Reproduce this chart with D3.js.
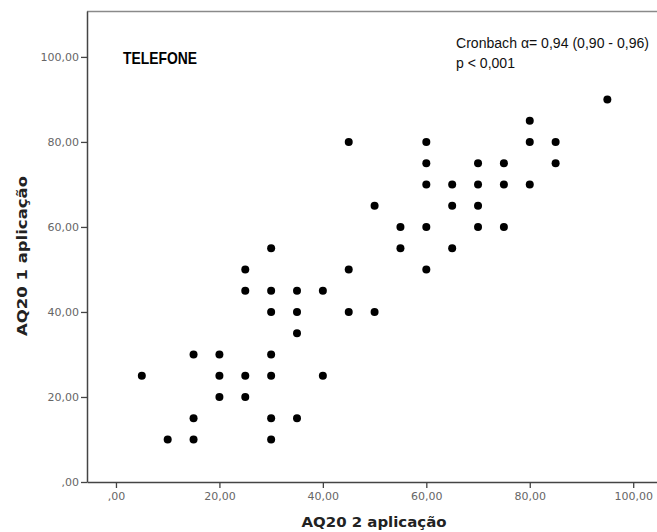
<!DOCTYPE html>
<html>
<head>
<meta charset="utf-8">
<script src="https://cdn.jsdelivr.net/npm/d3@7"></script>
<style>
  html, body { margin: 0; padding: 0; background: #fff; }
  svg { display: block; }
</style>
</head>
<body>
<svg id="chart" width="657" height="532"></svg>
<script>
// Data: AQ20 2 aplicação (x) vs AQ20 1 aplicação (y)
const xValues = [5,10,15,15,15,20,20,20,25,25,25,25,30,30,30,30,30,30,30,35,35,35,35,40,40,45,45,45,50,50,55,55,60,60,60,60,60,65,65,65,70,70,70,70,75,75,75,80,80,80,85,85,95];
const yValues = [25,10,10,15,30,30,25,20,50,45,25,20,55,45,40,30,25,15,10,45,40,35,15,45,25,80,50,40,65,40,60,55,80,75,70,60,50,70,65,55,75,70,65,60,75,70,60,85,80,70,80,75,90];
const xTicks = [0,20,40,60,80,100];
const yTicks = [0,20,40,60,80,100];
const xTitle = "AQ20 2 aplicação";
const yTitle = "AQ20 1 aplicação";
const panelLabel = "TELEFONE";
const statLines = ["Cronbach α= 0,94 (0,90 - 0,96)", "p < 0,001"];

const points = xValues.map((v, i) => ({x: v, y: yValues[i]}));

const svg = d3.select("#chart");
const pLeft = 87, pRight = 657, pTop = 11, pBottom = 482;

const x = d3.scaleLinear().domain([-5.6, 104.6]).range([pLeft, pRight]);
const y = d3.scaleLinear().domain([0, 110.8]).range([pBottom, pTop]);

const fmt = v => (v === 0 ? "" : String(v)) + ",00";

// top frame line
svg.append("line")
  .attr("x1", pLeft).attr("x2", pRight)
  .attr("y1", pTop + 0.5).attr("y2", pTop + 0.5)
  .attr("stroke", "#8a8a8a").attr("stroke-width", 1.5);

// y axis
const yAxis = svg.append("g")
  .attr("transform", `translate(${pLeft},0)`)
  .call(d3.axisLeft(y).tickValues(yTicks).tickFormat(fmt).tickSize(6).tickSizeOuter(0));
yAxis.select(".domain").attr("stroke", "#444").attr("stroke-width", 1.5);
yAxis.selectAll(".tick line").attr("stroke", "#444").attr("stroke-width", 1.3);
yAxis.selectAll(".tick text")
  .attr("font-family", "DejaVu Sans").attr("font-size", 11).attr("fill", "#666").attr("x", -8);

// x axis
const xAxis = svg.append("g")
  .attr("transform", `translate(0,${pBottom})`)
  .call(d3.axisBottom(x).tickValues(xTicks).tickFormat(fmt).tickSize(6).tickSizeOuter(0));
xAxis.select(".domain").attr("stroke", "#444").attr("stroke-width", 1.5);
xAxis.selectAll(".tick line").attr("stroke", "#444").attr("stroke-width", 1.3);
xAxis.selectAll(".tick text")
  .attr("font-family", "DejaVu Sans").attr("font-size", 11).attr("fill", "#666").attr("y", 10);

// points
svg.append("g").selectAll("circle")
  .data(points)
  .join("circle")
  .attr("cx", d => x(d.x))
  .attr("cy", d => y(d.y))
  .attr("r", 4)
  .attr("fill", "#000");

// axis titles
svg.append("text")
  .attr("x", 374).attr("y", 527)
  .attr("text-anchor", "middle")
  .attr("font-family", "DejaVu Sans").attr("font-weight", "bold").attr("font-size", 14.5)
  .attr("fill", "#222")
  .attr("textLength", 145).attr("lengthAdjust", "spacingAndGlyphs")
  .text(xTitle);

svg.append("text")
  .attr("transform", "translate(27,256) rotate(-90)")
  .attr("text-anchor", "middle")
  .attr("font-family", "DejaVu Sans").attr("font-weight", "bold").attr("font-size", 14.5)
  .attr("fill", "#222")
  .attr("textLength", 160).attr("lengthAdjust", "spacingAndGlyphs")
  .text(yTitle);

// panel label
svg.append("text")
  .attr("x", 123).attr("y", 64)
  .attr("font-family", "Liberation Sans").attr("font-weight", "bold").attr("font-size", 17)
  .attr("fill", "#000")
  .attr("textLength", 74).attr("lengthAdjust", "spacingAndGlyphs")
  .text(panelLabel);

// stats text
svg.append("text")
  .attr("x", 456).attr("y", 48)
  .attr("font-family", "Liberation Sans").attr("font-size", 14)
  .attr("fill", "#111")
  .attr("textLength", 193).attr("lengthAdjust", "spacingAndGlyphs")
  .text(statLines[0]);
svg.append("text")
  .attr("x", 456).attr("y", 68)
  .attr("font-family", "Liberation Sans").attr("font-size", 14)
  .attr("fill", "#111")
  .attr("textLength", 59).attr("lengthAdjust", "spacingAndGlyphs")
  .text(statLines[1]);
</script>
</body>
</html>
